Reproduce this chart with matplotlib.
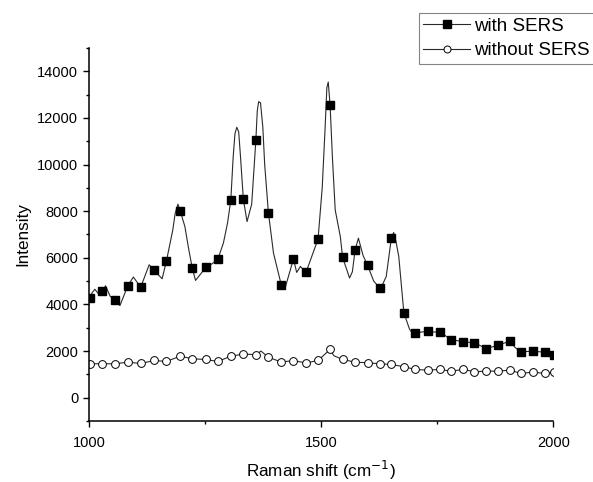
import numpy as np
import matplotlib
matplotlib.use('Agg')
import matplotlib.pyplot as plt
from matplotlib.ticker import MultipleLocator

plt.rcParams['font.family'] = ['Liberation Sans', 'DejaVu Sans']

# marker positions (Raman shift, cm-1)
markerX = [1001, 1028, 1055, 1083, 1111, 1140, 1166, 1196, 1222, 1251,
           1277, 1305, 1332, 1359, 1386, 1414, 1440, 1467, 1493, 1519,
           1546, 1573, 1600, 1626, 1651, 1678, 1703, 1729, 1755, 1780,
           1806, 1830, 1856, 1881, 1906, 1931, 1956, 1982, 2001]
withSERS = [4277, 4560, 4175, 4803, 4748, 5458, 5843, 8011, 5543, 5586,
            5945, 8482, 8512, 11048, 7939, 4816, 5945, 5372, 6801, 12545,
            6014, 6343, 5672, 4705, 6844, 3636, 2780, 2849, 2806, 2494,
            2395, 2352, 2108, 2250, 2421, 1950, 1993, 1950, 1850]
withoutSERS = [1454, 1454, 1454, 1523, 1467, 1595, 1553, 1780, 1668, 1638,
               1553, 1780, 1870, 1845, 1730, 1530, 1590, 1490, 1595, 2070,
               1638, 1523, 1497, 1454, 1424, 1326, 1210, 1181, 1210, 1138,
               1210, 1112, 1138, 1138, 1181, 1039, 1095, 1039, 1080]

# extra points of the full spectrum between markers
spectrumX = [1006, 1012, 1020, 1035, 1045, 1066, 1095, 1103, 1129, 1157,
             1180, 1185, 1191, 1206, 1214, 1229, 1265, 1289, 1298, 1310,
             1314, 1318, 1322, 1326, 1340, 1350, 1362, 1365, 1369, 1374,
             1378, 1397, 1422, 1447, 1455, 1502, 1508, 1512, 1515, 1524,
             1530, 1541, 1561, 1567, 1580, 1590, 1613, 1627, 1640, 1656,
             1661, 1667, 1690, 1698, 1742, 1768, 1918, 1942]
spectrumY = [4500, 4650, 4450, 4800, 4350, 3950, 5175, 4950, 5700, 5100,
             7200, 7900, 8300, 7340, 6400, 5030, 5750, 6630, 7500, 10300,
             11335, 11600, 11400, 10300, 7554, 8300, 12300, 12700, 12650, 11600,
             10000, 6202, 4705, 5372, 5629, 9000, 11476, 13300, 13540, 10300,
             8054, 6912, 5132, 5400, 6844, 6100, 5000, 4632, 5200, 7084,
             6700, 6057, 2950, 2708, 2820, 2650, 2150, 1980]
noSersX = [1370, 1527]
noSersY = [2000, 1800]

lineX1 = np.array(markerX + spectrumX)
lineY1 = np.array(withSERS + spectrumY)
order = np.argsort(lineX1)
lineX1, lineY1 = lineX1[order], lineY1[order]

lineX2 = np.array(markerX + noSersX)
lineY2 = np.array(withoutSERS + noSersY)
order = np.argsort(lineX2)
lineX2, lineY2 = lineX2[order], lineY2[order]

fig = plt.figure(figsize=(5.93, 4.82), dpi=100)
ax = fig.add_axes([0.1506, 0.1266, 0.7824, 0.7738])

lineColor = '#2a2a2a'
ax.plot(lineX1, lineY1, '-', color=lineColor, lw=0.8)
ax.plot(markerX, withSERS, 's', color='black', ms=5.8, mec='black')
ax.plot(lineX2, lineY2, '-', color=lineColor, lw=0.8)
ax.plot(markerX, withoutSERS, 'o', mfc='white', mec='black', ms=5.6, mew=0.7)

ax.set_xlim(1000, 2000)
ax.set_ylim(-1000, 15000)
ax.xaxis.set_major_locator(MultipleLocator(500))
ax.xaxis.set_minor_locator(MultipleLocator(250))
ax.yaxis.set_major_locator(MultipleLocator(2000))
ax.yaxis.set_minor_locator(MultipleLocator(1000))
ax.set_yticks(range(0, 15000, 2000))

for s in ['top', 'right']:
    ax.spines[s].set_visible(False)
for s in ['left', 'bottom']:
    ax.spines[s].set_linewidth(1.1)
ax.tick_params(which='major', direction='out', length=4.5, width=1.0, labelsize=10.5)
ax.tick_params(which='minor', direction='out', length=2.5, width=1.0)
ax.tick_params(axis='x', pad=6)

ax.set_xlabel('Raman shift (cm$^{-1}$)', fontsize=12.3, labelpad=7)
ax.set_ylabel('Intensity', fontsize=12.3, labelpad=5)

h1, = ax.plot([], [], '-s', color=lineColor, lw=0.8, mfc='black', mec='black', ms=6)
h2, = ax.plot([], [], '-o', color=lineColor, lw=0.8, mfc='white', mec='black', ms=5, mew=0.7)
leg = fig.legend([h1, h2], ['with SERS', 'without SERS'], loc='upper right',
                 bbox_to_anchor=(1.002, 0.973), fontsize=13.5, frameon=True,
                 fancybox=False, edgecolor='#666666', handlelength=2.5,
                 handletextpad=0.2, borderpad=0.25, labelspacing=0.4,
                 borderaxespad=0)
leg.get_frame().set_linewidth(0.8)

plt.savefig('out.png', dpi=100)
